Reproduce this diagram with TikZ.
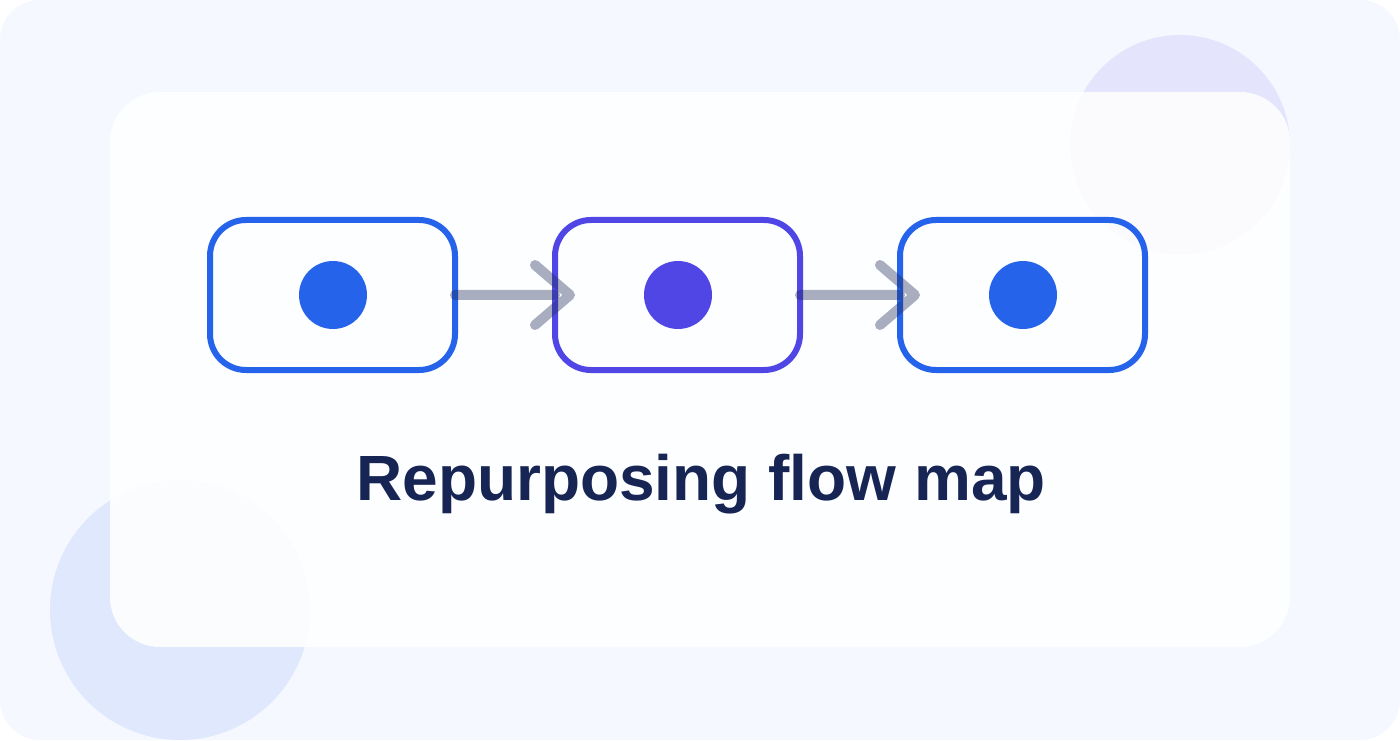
\documentclass[tikz,border=0pt]{standalone}
\usepackage{fontspec}
\setmainfont{Liberation Sans}
\usetikzlibrary{positioning}
\definecolor{pagebg}{HTML}{F5F8FF}
\definecolor{flowblue}{HTML}{2563EB}
\definecolor{flowindigo}{HTML}{4F46E5}
\definecolor{flownavy}{HTML}{172554}
\definecolor{flowgrey}{HTML}{1E2A5A}
\tikzset{
  flowbox/.style={draw,rounded corners=0.72cm,line width=0.12cm,outer sep=0pt,minimum width=4.9cm,minimum height=3cm},
  flowdot/.style={circle,inner sep=0pt,minimum width=1.36cm},
  flowline/.style={draw=flowgrey,draw opacity=0.38,line width=0.2cm,line cap=round,line join=round}
}

\begin{document}
\begin{tikzpicture}
            \useasboundingbox (0,0) rectangle (28,14.8);
            \fill [pagebg,rounded corners=0.8cm] (0,0) rectangle (28,14.8);
            \fill [flowindigo,opacity=0.1] (23.6,11.9) circle (2.2);
            \fill [flowblue,opacity=0.1] (3.6,2.6) circle (2.6);
            \fill [white,opacity=0.88,rounded corners=1cm] (2.2,1.86) rectangle (25.8,12.96);

            \node [flowbox,draw=flowblue] (box1) at (6.65,8.9) {};
            \node [flowbox,draw=flowindigo] (box2) at (13.55,8.9) {};
            \node [flowbox,draw=flowblue] (box3) at (20.45,8.9) {};
            \node [flowdot,fill=flowblue] (dot1) at (6.66,8.9) {};
            \node [flowdot,fill=flowindigo] (dot2) at (13.56,8.9) {};
            \node [flowdot,fill=flowblue] (dot3) at (20.46,8.9) {};

            \draw [flowline] (box1.east) -- (box2.west)
                ([shift={(-0.4,0.6)}]box2.west) -- ([xshift=0.3cm]box2.west) -- ([shift={(-0.4,-0.6)}]box2.west);
            \draw [flowline] (box2.east) -- (box3.west)
                ([shift={(-0.4,0.6)}]box3.west) -- ([xshift=0.3cm]box3.west) -- ([shift={(-0.4,-0.6)}]box3.west);

            \node [text=flownavy,anchor=base] (title) at (14.02,4.79) {\fontsize{36.4pt}{40pt}\selectfont\bfseries Repurposing flow map};
        \end{tikzpicture}
\end{document}
